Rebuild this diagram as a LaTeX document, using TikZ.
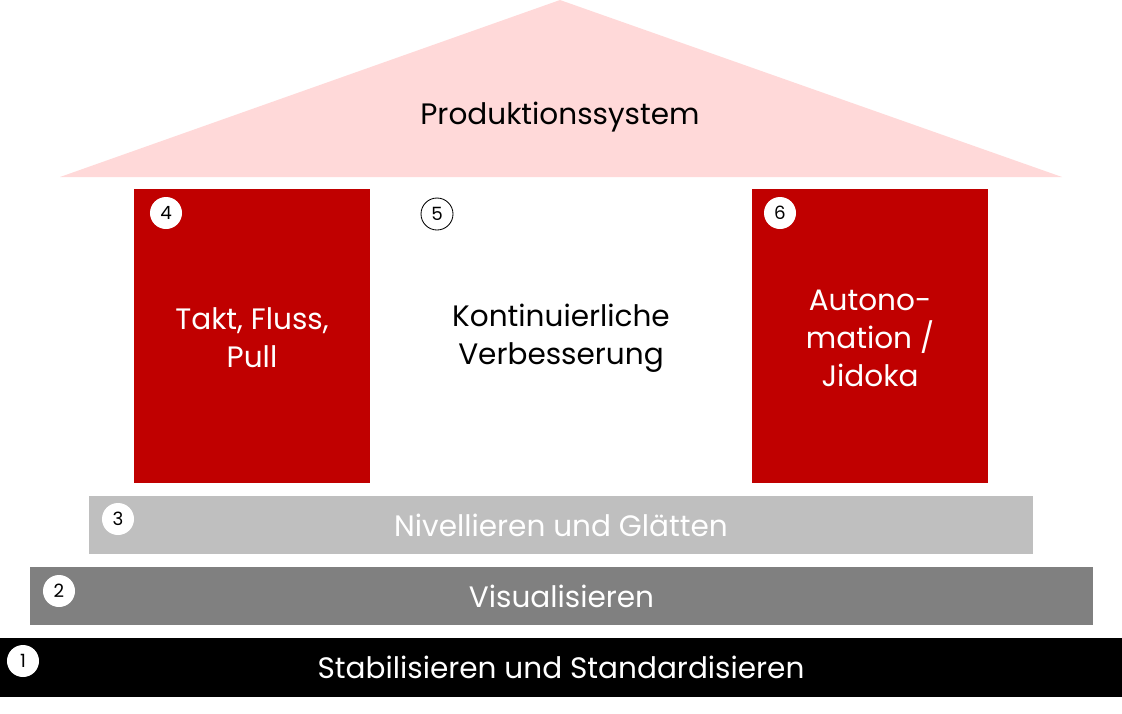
\documentclass[tikz,border=0pt]{standalone}
\usepackage{fontspec}
\setmainfont{Poppins}
\usetikzlibrary{positioning}
\definecolor{roofpink}{RGB}{255,217,217}
\definecolor{pillarred}{RGB}{192,0,0}
\definecolor{lightbar}{RGB}{191,191,191}
\definecolor{darkbar}{RGB}{128,128,128}
\begin{document}
\begin{tikzpicture}[x=0.025cm,y=-0.025cm,
    pillar/.style={rectangle, fill=pillarred, inner sep=0pt, minimum width=5.9cm, minimum height=7.35cm},
    bar/.style={rectangle, inner sep=0pt, minimum height=1.45cm},
    big/.style={font=\fontsize{21}{27}\selectfont, align=center},
    num/.style={circle, fill=white, inner sep=0pt, minimum size=0.8cm, font=\fontsize{13}{13}\selectfont}
]
    \useasboundingbox (0,0) rectangle (1122,713);

    % roof
    \fill[roofpink] (60,177) -- (560,0) -- (1062,177) -- cycle;
    \node[big] (roof) at (560,117) {Produktionssystem};

    % pillars
    \node[pillar] (p4) at (252,336) {};
    \node[pillar] (p6) at (870,336) {};
    \node[big, white] (t4) at (252,338) {Takt, Fluss,\\Pull};
    \node[big] (t5) at (561,338) {Kontinuierliche\\Verbesserung};
    \node[big, white] (t6) at (870,338) {Autono-\\mation /\\Jidoka};

    % base bars
    \node[bar, fill=lightbar, minimum width=23.6cm] (b3) at (561,525) {};
    \node[bar, fill=darkbar, minimum width=26.575cm] (b2) at (561.5,596) {};
    \node[bar, fill=black, minimum width=28.05cm, minimum height=1.475cm] (b1) at (561,667.5) {};
    \node[big, white] at (b3) {Nivellieren und Glätten};
    \node[big, white] at (b2) {Visualisieren};
    \node[big, white] at (b1) {Stabilisieren und Standardisieren};

    % numbers
    \node[num] (n1) at (23,661) {1};
    \node[num] (n2) at (59,591) {2};
    \node[num] (n3) at (118,519) {3};
    \node[num] (n4) at (166,213) {4};
    \node[num, draw=black, line width=0.6pt] (n5) at (437,214) {5};
    \node[num] (n6) at (780,213) {6};

\end{tikzpicture}
\end{document}
